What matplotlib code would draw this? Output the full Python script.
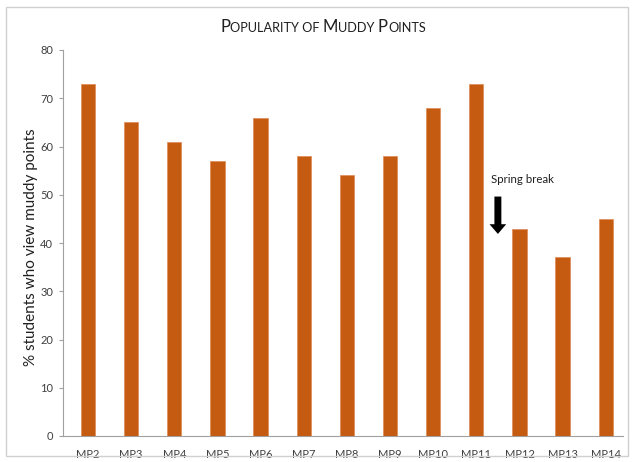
import matplotlib.pyplot as plt
from matplotlib.offsetbox import TextArea, HPacker, AnchoredOffsetbox
from matplotlib.patches import Rectangle

# dati
labels = ['MP2', 'MP3', 'MP4', 'MP5', 'MP6', 'MP7', 'MP8', 'MP9',
          'MP10', 'MP11', 'MP12', 'MP13', 'MP14']
percent = [73, 65, 61, 57, 66, 58, 54, 58, 68, 73, 43, 37, 45]
yticks = [0, 10, 20, 30, 40, 50, 60, 70, 80]

plt.rcParams['font.family'] = ['Lato', 'DejaVu Sans']

fig = plt.figure(figsize=(6.32, 4.62), dpi=100)
ax = fig.add_axes([63 / 632, 26 / 462, 560 / 632, 386 / 462])

x = range(len(labels))
ax.bar(x, percent, width=0.33, color='#C55A11', edgecolor='#E08A55', linewidth=0.5)

ax.set_xlim(-0.58, 12.4)
ax.set_ylim(0, 80)
ax.set_yticks(yticks)
ax.set_xticks(list(x))
ax.set_xticklabels(labels)
ax.tick_params(axis='x', length=0, pad=9, labelsize=8, colors='#404040')
ax.tick_params(axis='y', length=3, width=0.8, color='#A0A0A0', pad=4,
               labelsize=8, labelcolor='#404040')
for s in ['top', 'right']:
    ax.spines[s].set_visible(False)
for s in ['left', 'bottom']:
    ax.spines[s].set_color('#A0A0A0')
    ax.spines[s].set_linewidth(0.8)

ax.set_ylabel('% students who view muddy points', fontsize=11, color='#202020')
ax.yaxis.set_label_coords(-0.045, 0.49)

# freccia spring break
ax.annotate('', xy=(9.5, 41.3), xytext=(9.5, 50.2),
            arrowprops=dict(arrowstyle='simple,head_width=1.2,head_length=0.7,tail_width=0.5',
                            color='black', lw=0))
ax.text(9.33, 52.0, 'Spring break', fontsize=8.3, color='#202020', ha='left', va='bottom')

# titolo in maiuscoletto
parts = [('P', 12), ('OPULARITY OF ', 9.2), ('M', 12), ('UDDY ', 9.2), ('P', 12), ('OINTS', 9.2)]
boxes = [TextArea(t, textprops=dict(fontsize=fs, color='#202020')) for t, fs in parts]
pack = HPacker(children=boxes, align='baseline', pad=0, sep=0)
title = AnchoredOffsetbox(loc='center', child=pack, frameon=False,
                          bbox_to_anchor=(323 / 632, 1 - 27 / 462),
                          bbox_transform=fig.transFigure, pad=0, borderpad=0)
fig.add_artist(title)

# cornice
fig.add_artist(Rectangle((6 / 632, 6 / 462), 622 / 632, 449 / 462, transform=fig.transFigure,
                         fill=False, edgecolor='#D0D0D0', linewidth=1))

fig.savefig('out.png', dpi=100)
